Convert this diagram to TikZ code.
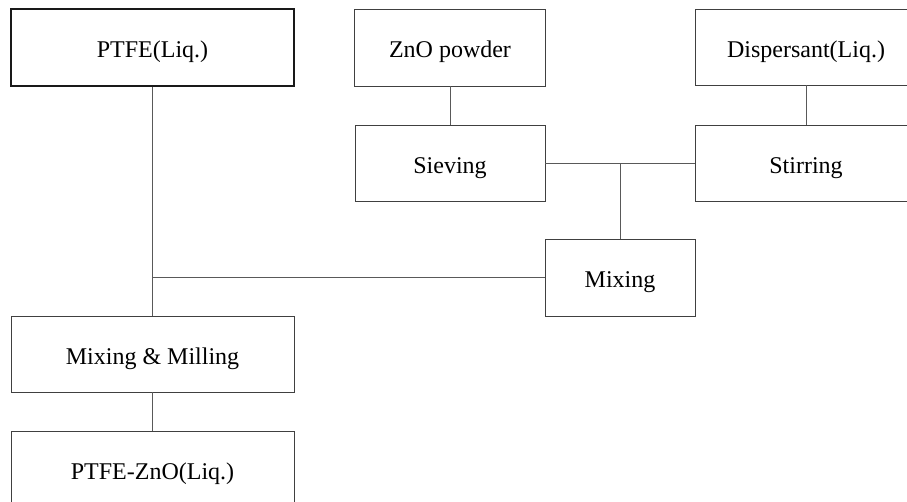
\documentclass[tikz,border=0pt]{standalone}
\usepackage{fontspec}
\setmainfont{Liberation Serif}
\begin{document}
\begin{tikzpicture}[x=1pt,y=-1pt,
  box/.style={draw=black!75, line width=0.9pt, inner sep=0pt, text height=20pt, text depth=0pt, font=\fontsize{24}{28}\selectfont},
  wide/.style={box, minimum width=283pt, minimum height=77pt},
  mid/.style={box, minimum width=191pt, minimum height=77pt},
  right/.style={box, minimum width=222pt, minimum height=76pt},
  small/.style={box, minimum width=150pt, minimum height=77pt},
  link/.style={draw=black!65, line width=0.9pt}]
\useasboundingbox (0,0) rectangle (907,501);
\clip (0,0) rectangle (907,501);
\fill[white] (0,0) rectangle (907,501);
\node[wide, line width=1.6pt, draw=black!90] (ptfe) at (152.5,47.5) {PTFE(Liq.)};
\node[mid] (zno) at (450,47.5) {ZnO powder};
\node[right] (disp) at (806,47) {Dispersant(Liq.)};
\node[mid, minimum width=190pt, minimum height=76pt] (siev) at (450,163) {Sieving};
\node[right] (stir) at (806,163) {Stirring};
\node[small] (mix) at (620,277.5) {Mixing};
\node[wide, minimum height=76pt] (mm) at (152.5,354) {Mixing \& Milling};
\node[wide] (out) at (152.5,469.5) {PTFE-ZnO(Liq.)};
\coordinate (j) at (620,163);
\draw[link] (ptfe.south) -- (mm.north);
\draw[link] (zno.south) -- (siev.north);
\draw[link] (disp.south) -- (stir.north);
\draw[link] (siev.east) -- (stir.west);
\draw[link] (j) -- (mix.north);
\draw[link] (mix.west) -- (ptfe.south |- mix.west);
\draw[link] (mm.south) -- (out.north);
\end{tikzpicture}
\end{document}
